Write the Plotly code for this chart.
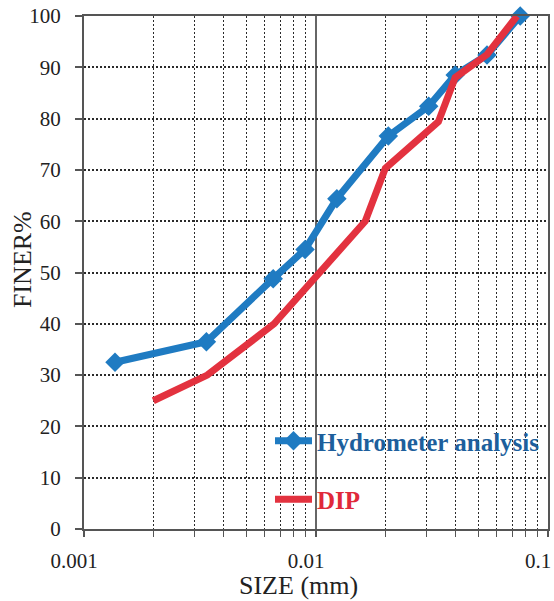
import plotly.graph_objects as go

# Data
hydro_size = [0.00136, 0.00337, 0.00654, 0.00897, 0.0123, 0.0205, 0.0306, 0.0398, 0.0546, 0.0759]
hydro_finer = [32.5, 36.5, 48.8, 54.5, 64.4, 76.6, 82.4, 88.5, 92.4, 100.0]

dip_size = [0.00199, 0.0034, 0.0066, 0.0163, 0.0199, 0.0337, 0.0398, 0.0546, 0.0735]
dip_finer = [25.0, 30.0, 40.0, 60.0, 70.3, 79.4, 88.0, 92.5, 100.0]

x_tick_vals = [0.001, 0.01, 0.1]
x_tick_text = ["0.001", "0.01", "0.1"]
y_tick_vals = [0, 10, 20, 30, 40, 50, 60, 70, 80, 90, 100]

BLUE = "#1f7bc2"
RED = "#e3323f"
SERIF = "Liberation Serif"

L, R, T, B = 84, 6, 16, 72
W, H = 554, 601
PW = W - L - R
PH = H - T - B


def px_x(p):
    return (p - L) / PW


def px_y(p):
    return (H - B - p) / PH


fig = go.Figure()
fig.add_trace(go.Scatter(
    x=hydro_size, y=hydro_finer, mode="lines+markers",
    name="<b><span style='color:#1d5f9c'>Hydrometer analysis</span></b>",
    line=dict(color=BLUE, width=7),
    marker=dict(symbol="diamond", size=15, color=BLUE),
    legendgroup="a", cliponaxis=False,
))
fig.add_trace(go.Scatter(
    x=dip_size, y=dip_finer, mode="lines",
    name="<b><span style='color:#e0293a'>DIP</span></b>",
    line=dict(color=RED, width=7),
    legendgroup="b", cliponaxis=False,
))

grid_col = "#2a2a2a"
fig.update_xaxes(
    type="log", range=[-3, -1], automargin=False,
    tickvals=x_tick_vals, ticktext=x_tick_text,
    showgrid=True, gridcolor="#666666", gridwidth=1.5,
    showline=True, linecolor="#555555", linewidth=2, mirror=True,
    ticks="outside", ticklen=6, tickcolor="#555555", tickwidth=1.5,
    tickfont=dict(family=SERIF, size=21, color="#222222"),
    ticklabelshift=-10, ticklabelstandoff=6,
    minor=dict(dtick="D1", showgrid=True, gridcolor=grid_col, gridwidth=1.4,
               griddash="2px,2px", ticks="outside", ticklen=6,
               tickcolor="#555555", tickwidth=1.3),
    zeroline=False,
)
fig.update_yaxes(
    range=[0, 100], tickvals=y_tick_vals, automargin=False,
    showgrid=True, gridcolor=grid_col, gridwidth=1.5, griddash="2px,2px",
    showline=True, linecolor="#555555", linewidth=2, mirror=True,
    ticks="outside", ticklen=7, tickcolor="#555555", tickwidth=1.5,
    tickfont=dict(family=SERIF, size=21, color="#222222"),
    ticklabelstandoff=10,
    zeroline=False,
)

fig.add_annotation(text="SIZE (mm)", x=px_x(298), y=px_y(585), xref="paper", yref="paper",
                   xanchor="center", yanchor="middle",
                   showarrow=False, font=dict(family=SERIF, size=26, color="#222222"))
fig.add_annotation(text="FINER%", textangle=-90, x=px_x(22), y=px_y(260),
                   xref="paper", yref="paper", xanchor="center", yanchor="middle",
                   showarrow=False, font=dict(family=SERIF, size=26, color="#222222"))

fig.update_layout(
    width=W, height=H,
    margin=dict(l=L, r=R, t=T, b=B, autoexpand=False),
    paper_bgcolor="white", plot_bgcolor="white",
    legend=dict(
        x=px_x(270), y=px_y(418), xanchor="left", yanchor="top",
        bgcolor="rgba(0,0,0,0)", borderwidth=0,
        font=dict(family=SERIF, size=25),
        itemwidth=37, tracegroupgap=23, traceorder="grouped",
    ),
)

fig.write_html("out.html", config={"displayModeBar": False},
               post_script="document.body.style.margin='0';document.body.style.overflow='hidden';")
